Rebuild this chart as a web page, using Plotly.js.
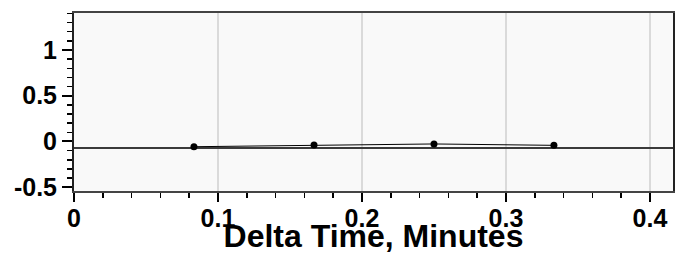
<!DOCTYPE html>
<html>
<head>
<meta charset="utf-8">
<script src="https://cdn.plot.ly/plotly-3.0.1.min.js"></script>
<style>html,body{margin:0;padding:0;background:#fff;}#chart{width:683px;height:254px;}</style>
</head>
<body>
<div id="chart"></div>
<script>
// Data
const timeMinutes = [0.0833, 0.1667, 0.25, 0.3333];
const measuredValues = [-0.057, -0.038, -0.027, -0.042];
const fitX = [0, 0.42];
const fitY = [-0.07, -0.07];
const xTickVals = [0, 0.1, 0.2, 0.3, 0.4];
const xTickText = ['0', '0.1', '0.2', '0.3', '0.4'];
const yTickVals = [-0.5, 0, 0.5, 1];
const yTickText = ['-0.5', '0', '0.5', '1'];
const xTitle = 'Delta Time, Minutes';

const tickFont = {family: 'Arial, "Liberation Sans", sans-serif', size: 25, color: '#000', weight: 'bold'};

const traces = [
  {x: fitX, y: fitY, mode: 'lines', line: {color: '#3a3a3a', width: 2}, hoverinfo: 'skip', showlegend: false},
  {x: timeMinutes, y: measuredValues, mode: 'lines+markers',
   line: {color: '#000', width: 1}, marker: {color: '#000', size: 7}, showlegend: false}
];

const layout = {
  width: 683, height: 254,
  margin: {l: 74, r: 10, t: 13, b: 63},
  paper_bgcolor: '#ffffff',
  plot_bgcolor: '#f9f9f9',
  showlegend: false,
  xaxis: {
    range: [0, 0.416], autorange: false,
    tickvals: xTickVals, ticktext: xTickText,
    ticks: 'outside', ticklen: 9, tickwidth: 2, tickcolor: '#000',
    ticklabelstandoff: -5,
    minor: {dtick: 0.02, tick0: 0, ticks: 'outside', ticklen: 5, tickwidth: 1.5, tickcolor: '#000', showgrid: false},
    showgrid: true, gridcolor: '#dadada', gridwidth: 1.5,
    showline: true, mirror: true, linecolor: '#444', linewidth: 2,
    zeroline: false,
    tickfont: tickFont,
    title: {text: xTitle, font: {family: 'Arial, "Liberation Sans", sans-serif', size: 32, color: '#000', weight: 'bold'}, standoff: 3},
    automargin: false
  },
  yaxis: {
    range: [-0.541, 1.404], autorange: false,
    tickvals: yTickVals, ticktext: yTickText,
    ticks: 'outside', ticklen: 10, tickwidth: 2, tickcolor: '#000',
    minor: {dtick: 0.1, tick0: 0, ticks: 'outside', ticklen: 5, tickwidth: 1.5, tickcolor: '#000', showgrid: false},
    showgrid: false,
    showline: true, mirror: true, linecolor: '#222', linewidth: 2,
    zeroline: false,
    tickfont: tickFont,
    automargin: false
  }
};

Plotly.newPlot('chart', traces, layout, {displayModeBar: false, staticPlot: true});
</script>
</body>
</html>
